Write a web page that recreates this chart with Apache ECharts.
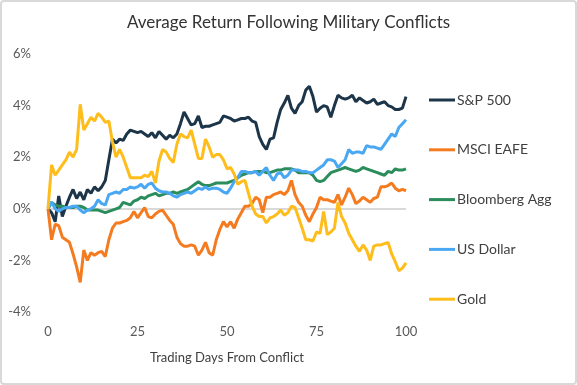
<!DOCTYPE html>
<html>
<head>
<meta charset="utf-8">
<script src="https://cdn.jsdelivr.net/npm/echarts@6/dist/echarts.min.js"></script>
<style>
html,body{margin:0;padding:0;background:#fff;}
#c{width:577px;height:385px;position:absolute;left:0;top:0;}
#frame{position:absolute;left:0;top:0;width:577px;height:385px;box-sizing:border-box;border:2px solid #d9d9d9;border-radius:4px;pointer-events:none;}
</style>
</head>
<body>
<div id="c"></div>
<div id="frame"></div>
<script>
const days = Array.from({length:101},(_,i)=>i);
const xTicks = [0,25,50,75,100];
const yTicks = [-4,-2,0,2,4,6];
const seriesNames = ['S&P 500','MSCI EAFE','Bloomberg Agg','US Dollar','Gold'];
const seriesColors = ['#1d3549','#f47b20','#2b8c5c','#4aa8f2','#ffbd1c'];

const sp500 = [0,-0.15,-0.5,0.5,-0.3,0.1,0.45,0.75,0.4,0.65,0.35,0.75,0.6,0.85,0.7,0.85,1.1,1.9,2.7,2.55,
2.7,2.65,2.9,3.05,3.0,2.95,3.0,2.9,2.8,2.95,2.75,3.0,2.85,2.7,2.85,2.75,2.9,3.3,3.75,3.5,
3.25,3.3,3.6,3.15,3.2,3.2,3.25,3.3,3.35,3.6,3.55,3.5,3.4,3.45,3.5,3.5,3.55,3.4,3.35,2.8,
2.5,2.3,2.7,2.75,3.35,3.85,4.1,4.4,3.9,3.7,4.0,4.15,4.6,4.75,4.35,3.75,3.9,4.0,3.95,3.55,
4.0,4.4,4.3,4.25,4.3,4.4,4.15,4.3,4.2,4.1,4.15,4.25,4.05,4.1,4.15,4.0,3.95,3.85,3.85,3.9,4.35];

const eafe = [0,-1.2,-0.6,-0.65,-1.1,-1.2,-1.3,-1.75,-2.25,-2.85,-1.6,-2.0,-1.7,-1.8,-1.7,-1.65,-1.85,-1.2,-0.75,-0.55,
-0.55,-0.5,-0.45,-0.35,-0.1,-0.35,-0.15,0.05,-0.3,-0.35,-0.2,-0.1,-0.05,-0.25,-0.45,-0.6,-1.1,-1.35,-1.45,-1.45,
-1.4,-1.45,-1.8,-1.6,-1.3,-1.7,-1.8,-1.2,-0.8,-0.5,-0.7,-0.5,-0.75,-0.4,-0.15,0.1,0.1,0.2,0.45,0.35,
-0.15,0.45,0.45,0.55,0.6,0.65,0.55,0.7,1.1,0.55,0.25,0.1,-0.25,-0.5,-0.2,0.05,0.45,0.35,0.35,0.3,
0.25,0.55,0.15,0.45,0.8,0.55,0.2,0.3,0.45,0.35,0.25,0.4,0.45,0.85,0.85,0.9,1.0,0.8,0.7,0.75,0.7];

const agg = [0,0.25,0.15,0.1,0.1,0.05,0.05,0.05,0.1,0.1,0.05,-0.05,-0.05,-0.05,-0.05,-0.1,-0.15,-0.1,-0.05,0.0,
0.05,0.25,0.2,0.15,0.3,0.35,0.45,0.4,0.5,0.55,0.6,0.5,0.55,0.6,0.6,0.65,0.6,0.65,0.7,0.75,
0.85,0.95,1.05,0.95,0.9,0.9,0.95,1.0,1.0,1.0,1.0,1.05,1.1,1.2,1.3,1.35,1.4,1.4,1.45,1.45,
1.45,1.4,1.4,1.45,1.5,1.5,1.55,1.55,1.55,1.5,1.4,1.4,1.4,1.4,1.3,1.1,1.05,1.1,1.25,1.4,
1.45,1.5,1.55,1.6,1.55,1.5,1.45,1.5,1.6,1.55,1.5,1.45,1.4,1.35,1.3,1.45,1.4,1.55,1.5,1.5,1.55];

const usd = [0,0.25,0.0,-0.1,0.0,0.05,0.05,0.1,0.1,-0.05,-0.15,-0.05,0.0,0.1,0.35,0.2,0.15,0.55,0.6,0.65,
0.6,0.75,0.75,0.85,0.8,0.85,0.95,0.8,0.95,1.0,0.8,0.7,0.65,0.65,0.6,0.5,0.45,0.55,0.6,0.65,
0.6,0.7,0.8,0.75,0.85,0.75,0.8,0.8,0.75,0.65,0.6,0.8,1.05,1.2,1.45,1.45,1.4,1.4,1.45,1.3,
1.45,1.6,1.3,1.1,1.35,1.4,1.2,1.3,1.5,1.5,1.5,1.45,1.45,1.4,1.4,1.5,1.6,1.7,1.9,1.9,
1.85,1.6,1.75,1.9,2.3,2.15,2.2,2.2,2.15,2.45,2.4,2.4,2.35,2.3,2.5,2.7,2.9,2.8,3.15,3.3,3.45];

const gold = [0,1.7,1.3,1.5,1.7,1.9,2.2,2.0,2.3,4.05,3.05,3.3,3.55,3.4,3.7,3.55,3.35,3.4,2.6,2.0,
2.3,2.0,1.6,1.2,1.2,1.2,1.2,1.3,1.25,1.45,1.0,1.85,2.3,2.2,1.95,1.8,2.5,2.9,2.8,2.75,
3.05,2.5,1.95,1.95,2.7,2.4,2.0,2.1,2.1,1.9,1.55,1.6,1.35,0.95,1.05,1.1,0.6,0.1,-0.2,-0.3,
-0.3,-0.55,-0.35,-0.3,-0.2,-0.05,-0.25,-0.15,0.1,0.05,-0.35,-0.75,-1.2,-1.2,-1.25,-0.9,-0.95,-0.1,-1.0,-0.9,
-0.75,0.25,-0.3,-0.55,-0.95,-1.2,-1.45,-1.65,-1.4,-1.6,-2.0,-1.45,-1.4,-1.4,-1.35,-1.3,-1.75,-2.05,-2.4,-2.3,-2.1];

const allData = [sp500, eafe, agg, usd, gold];
const FONT = 'Lato, "Open Sans", sans-serif';

const chart = echarts.init(document.getElementById('c'), null, {renderer:'canvas'});
chart.setOption({
  animation:false,
  backgroundColor:'#fff',
  title:{
    text:'Average Return Following Military Conflicts',
    left:'center', top:9,
    textStyle:{fontFamily:FONT, fontWeight:'normal', fontSize:17, color:'#333'}
  },
  legend:{
    orient:'vertical',
    left:424, top:88,
    icon:'rect',
    itemWidth:26, itemHeight:3, itemGap:35.8,
    textStyle:{fontFamily:FONT, fontSize:14, lineHeight:14, color:'#404040', padding:[0,0,0,-3]},
    data:seriesNames
  },
  grid:{left:48, right:171, top:54, bottom:73, containLabel:false},
  xAxis:{
    type:'value', min:xTicks[0], max:xTicks[xTicks.length-1], interval:25,
    name:'Trading Days From Conflict', nameLocation:'middle', nameGap:39,
    nameTextStyle:{fontFamily:FONT, fontSize:13, color:'#404040'},
    axisLine:{show:false}, axisTick:{show:false}, splitLine:{show:false},
    axisLabel:{fontFamily:FONT, fontSize:13, color:'#595959', margin:13}
  },
  yAxis:{
    type:'value', min:yTicks[0], max:yTicks[yTicks.length-1], interval:2,
    axisLine:{show:false}, axisTick:{show:false},
    axisLabel:{fontFamily:FONT, fontSize:13, color:'#595959', margin:17, formatter:'{value}%'},
    splitLine:{show:true, lineStyle:{width:2, color:['rgba(0,0,0,0)','rgba(0,0,0,0)','#d9d9d9','rgba(0,0,0,0)','rgba(0,0,0,0)','rgba(0,0,0,0)']}}
  },
  series: seriesNames.map((n,i)=>({
    name:n, type:'line', symbol:'none', showSymbol:false,
    data: days.map((d,j)=>[d, allData[i][j]]),
    lineStyle:{width:3, color:seriesColors[i]},
    itemStyle:{color:seriesColors[i]},
    z: 2+i
  }))
});
</script>
</body>
</html>
